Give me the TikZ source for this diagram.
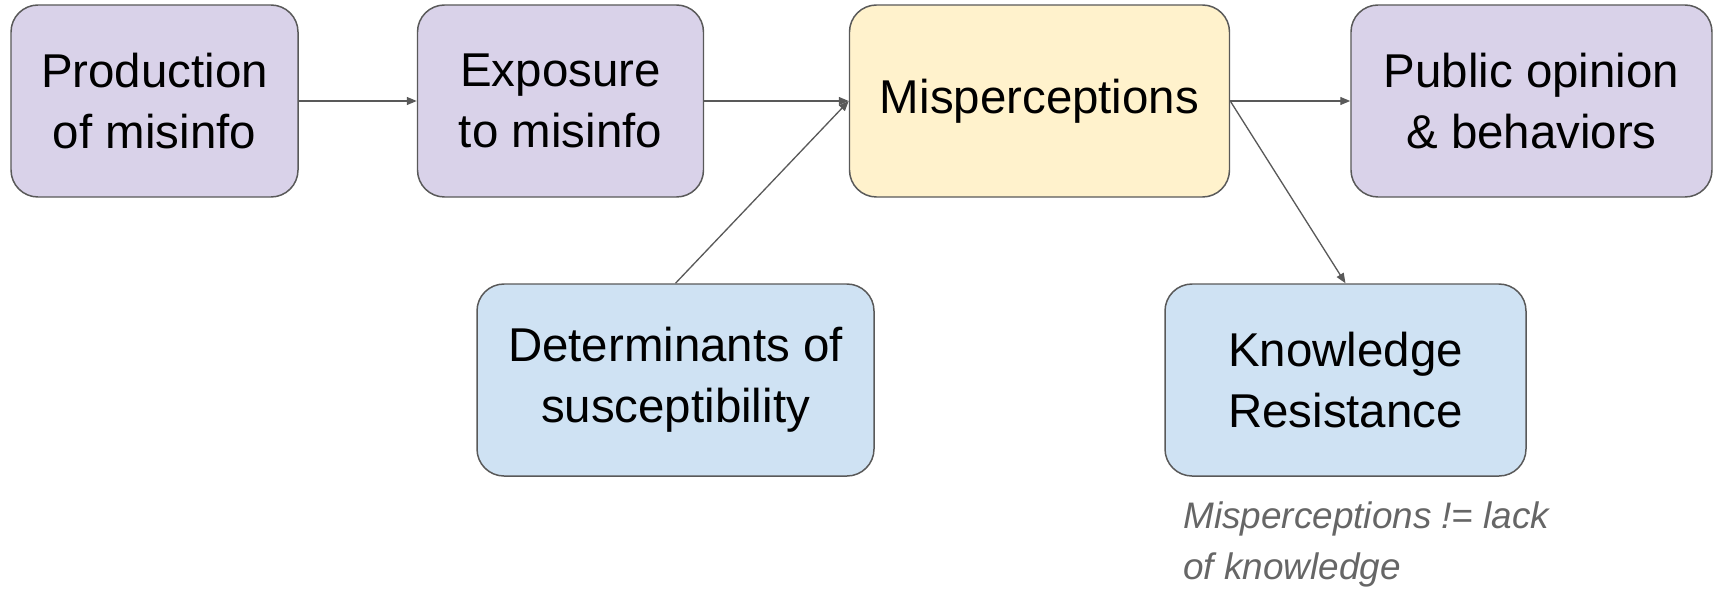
\documentclass[tikz,border=0pt]{standalone}
\usepackage{fontspec}
\setmainfont{Liberation Sans}
\usetikzlibrary{arrows.meta,positioning}
\definecolor{cmisinfo}{HTML}{D9D2E9}
\definecolor{cmisperc}{HTML}{FFF2CC}
\definecolor{cdeterm}{HTML}{CFE2F3}
\definecolor{cline}{HTML}{595959}
\definecolor{cnote}{HTML}{666666}
\tikzset{
  box/.style={draw=cline,line width=0.85pt,rounded corners=0.54cm,align=center,inner sep=2pt,minimum height=3.84cm,font=\fontsize{27}{34.5}\selectfont},
  >={Triangle[length=2mm,width=1.6mm]}
}

\begin{document}
\begin{tikzpicture}[node distance=2.36cm,
    flow/.style={->,draw=cline,line width=0.75pt}]
  \useasboundingbox (0,0) rectangle (34.26,-11.78);
  \node[box,fill=cmisinfo,minimum width=5.74cm] (prod) at (3.09,-2.02) {Production\\ of misinfo};
  \node[box,fill=cmisinfo,minimum width=5.72cm,right=of prod] (expo) {Exposure\\ to misinfo};
  \node[box,fill=cmisperc,minimum width=7.6cm,right=2.89cm of expo] (misp) {\strut Misperceptions};
  \node[box,fill=cmisinfo,minimum width=7.22cm,right=2.4cm of misp] (pub) {Public opinion\\ \& behaviors};
  \node[box,fill=cdeterm,minimum width=7.94cm] (det) at (13.51,-7.6) {Determinants of\\ susceptibility};
  \node[box,fill=cdeterm,minimum width=7.22cm] (know) at (26.91,-7.6) {Knowledge\\ Resistance};
  \node[anchor=north west,inner sep=0pt,align=left,text=cnote,font=\fontsize{21}{29}\selectfont\itshape] (note) at (23.66,-10.02) {Misperceptions != lack\\ of knowledge};
  \draw[flow] (prod) -- (expo);
  \draw[flow] (expo) -- (misp);
  \draw[flow] (det.north) -- (misp.west);
  \draw[flow] (misp) -- (pub);
  \draw[flow] (misp.east) -- (know.north);
\end{tikzpicture}
\end{document}
